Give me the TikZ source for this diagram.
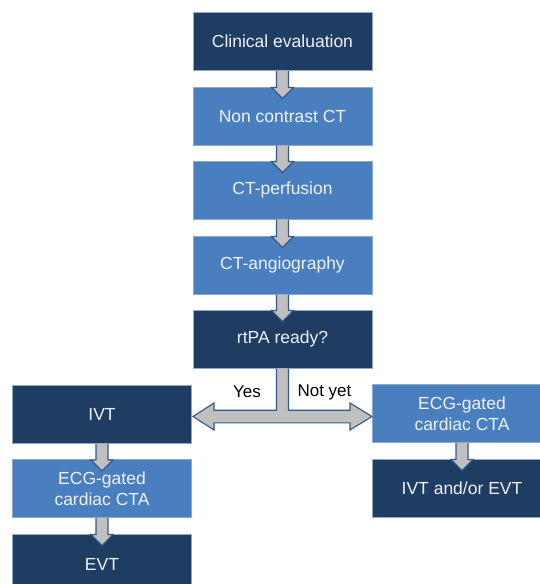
\documentclass[tikz,border=0pt]{standalone}
\usepackage{fontspec}
\setmainfont{Liberation Sans}
\usetikzlibrary{calc}
\definecolor{darkbox}{HTML}{1F3C62}
\definecolor{lightbox}{HTML}{4A7FBF}
\definecolor{boxedge}{HTML}{8FA9CC}
\definecolor{arrfill}{HTML}{C0C0C0}
\definecolor{arredge}{HTML}{35598A}
\definecolor{boxtext}{HTML}{EEF2F7}
\tikzset{
  box/.style={rectangle, draw=boxedge, line width=1pt, text=boxtext, minimum width=179pt, minimum height=58pt, align=center, inner sep=0pt, font=\fontsize{17.5}{21}\selectfont},
  darkb/.style={box, fill=darkbox},
  lightb/.style={box, fill=lightbox},
  garrow/.style={fill=arrfill, draw=arredge, line width=1.1pt, line join=miter},
  lab/.style={font=\fontsize{17}{20}\selectfont, text=black, inner sep=0pt}
}
\newcommand\grayarr[2]{%
  \draw[garrow] ($(#1.south)+(-6,0)$) -- ($(#2.north)+(-6,1)$) -- ($(#2.north)+(-11,1)$) -- ($(#2.north)+(0,12)$) -- ($(#2.north)+(11,1)$) -- ($(#2.north)+(6,1)$) -- ($(#1.south)+(6,0)$);}
\begin{document}
\begin{tikzpicture}[x=1pt,y=-1pt]
\useasboundingbox (0,0) rectangle (540,584);
\fill[white] (0,0) rectangle (540,584);
\node[darkb] (c1) at (282.5,41.7) {Clinical evaluation};
\node[lightb] (c2) at (282.5,116) {Non contrast CT};
\node[lightb] (c3) at (282.5,190) {CT-perfusion};
\node[lightb] (c4) at (282.5,265) {CT-angiography};
\node[darkb] (c5) at (282.5,339) {rtPA ready?};
\node[darkb] (ivt) at (102,414.5) {IVT};
\node[lightb] (ecgL) at (102,488.5) {ECG-gated\\cardiac CTA};
\node[darkb, minimum height=60pt] (evt) at (102,564) {EVT};
\node[lightb] (ecgR) at (462,413.5) {ECG-gated\\cardiac CTA};
\node[darkb] (both) at (462,488) {IVT and/or EVT};
\grayarr{c1}{c2}
\grayarr{c2}{c3}
\grayarr{c3}{c4}
\grayarr{c4}{c5}
\grayarr{ivt}{ecgL}
\grayarr{ecgL}{evt}
\grayarr{ecgR}{both}
% T-shaped double arrow
\coordinate (yb) at (282.5,416.5);
\draw[garrow] ($(c5.south)+(-6,0)$) -- ($(c5.south)!1!(c5.south |- yb)+(-6,-6.3)$)
  -- ($(ivt.east |- yb)+(22,-6.3)$) -- ($(ivt.east |- yb)+(22,-13.5)$)
  -- ($(ivt.east |- yb)+(1,0)$)
  -- ($(ivt.east |- yb)+(22,13.5)$) -- ($(ivt.east |- yb)+(22,6.3)$)
  -- ($(ecgR.west |- yb)+(-22,6.3)$) -- ($(ecgR.west |- yb)+(-22,13.5)$)
  -- ($(ecgR.west |- yb)+(0,0)$)
  -- ($(ecgR.west |- yb)+(-22,-13.5)$) -- ($(ecgR.west |- yb)+(-22,-6.3)$)
  -- ($(c5.south |- yb)+(6,-6.3)$) -- ($(c5.south)+(6,0)$);
\node[lab] (yes) at (247,392) {Yes};
\node[lab] (notyet) at (324.5,392) {Not yet};
\end{tikzpicture}
\end{document}
